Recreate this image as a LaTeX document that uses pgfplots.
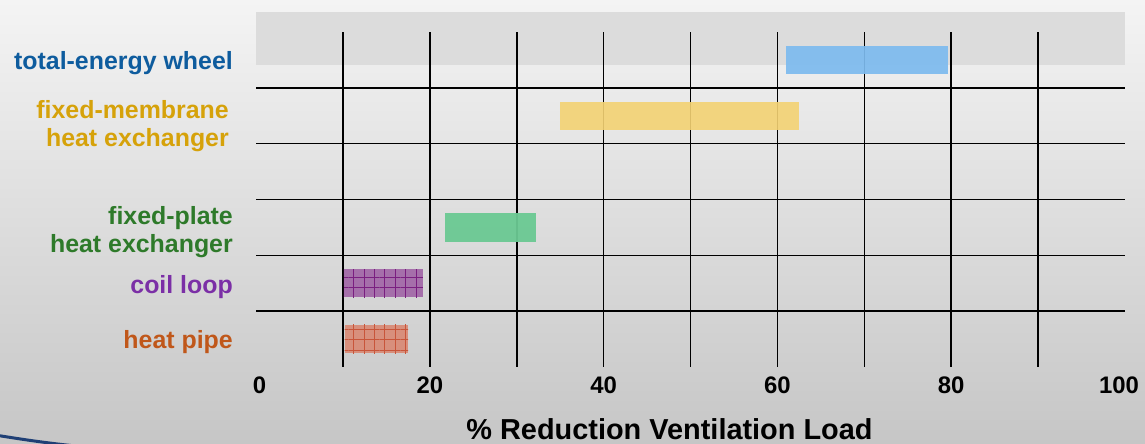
\documentclass[border=0pt]{standalone}
\usepackage{pgfplots}
\pgfplotsset{compat=1.18}
\usepackage{fontspec}
\setmainfont{Liberation Sans}
\usetikzlibrary{patterns.meta}
\definecolor{bgtop}{HTML}{F4F4F4}
\definecolor{bgbot}{HTML}{C6C6C6}
\definecolor{bandgray}{HTML}{DCDCDC}
\definecolor{navy}{HTML}{1F3F75}
\definecolor{lblue}{HTML}{0E5C9E}
\definecolor{lgold}{HTML}{D6A20A}
\definecolor{lgreen}{HTML}{2E7A2A}
\definecolor{lpurple}{HTML}{7B2FA6}
\definecolor{lorange}{HTML}{C0571A}
\definecolor{bblue}{HTML}{7DBBEF}
\definecolor{byellow}{HTML}{F4D273}
\definecolor{bgreen}{HTML}{6BC993}
\definecolor{bpurple}{HTML}{A36AA8}
\definecolor{bpurpleline}{HTML}{7A1F80}
\definecolor{borange}{HTML}{D98C78}
\definecolor{borangeline}{HTML}{C8553A}
\begin{document}
\begin{tikzpicture}
\useasboundingbox (0,0) rectangle (1145bp,444bp);
\clip (0,0) rectangle (1145bp,444bp);
\shade[top color=bgtop, bottom color=bgbot] (0,0) rectangle (1145bp,444bp);
\fill[bandgray] (256bp,379.3bp) rectangle (1125bp,432bp);
\draw[navy,line width=3bp] (-5bp,9bp) .. controls (20bp,5bp) and (45bp,1bp) .. (85bp,-3bp);
\begin{axis}[
  at={(256bp,77bp)}, anchor=south west,
  scale only axis, width=869bp, height=335bp,
  xmin=0, xmax=100, ymin=-0.5, ymax=5.5,
  axis line style={draw=none},
  major tick length=0pt,
  xtick={0,20,40,60,80,100},
  xticklabels={{\rule{7bp}{0pt}0},20,40,60,80,{100\rule{12bp}{0pt}}},
  x tick label style={font=\fontsize{24}{28}\selectfont\bfseries, inner sep=0pt, anchor=north},
  xticklabel shift=10bp,
  ytick={-0.06,0.94,1.92,3.81,4.95},
  yticklabels={
    {\textcolor{lorange}{heat pipe}},
    {\textcolor{lpurple}{coil loop}},
    {\textcolor{lgreen}{fixed-plate}\\\textcolor{lgreen}{heat exchanger}},
    {\textcolor{lgold}{fixed-membrane}\rule{4bp}{0pt}\\\textcolor{lgold}{heat exchanger}\rule{4bp}{0pt}},
    {\textcolor{lblue}{total-energy wheel}}},
  y tick label style={font=\fontsize{25}{28}\selectfont\bfseries, align=right, inner sep=0pt, anchor=east},
  yticklabel shift=23bp,
  extra x ticks={10,20,30,40,50,60,70,80,90},
  extra x tick labels={},
  extra x tick style={grid=major},
  extra y ticks={0.5,1.5,2.5,3.5,4.5},
  extra y tick labels={},
  extra y tick style={grid=major},
  major grid style={black, line width=1.6bp},
  xlabel={\% Reduction Ventilation Load},
  xlabel style={font=\fontsize{29}{32}\selectfont\bfseries, at={(axis description cs:0.5,0)}, anchor=north, yshift=-51bp, xshift=-21bp, inner sep=0pt},
  clip=false,
]
% total-energy wheel: 61 to 79.6
\addplot[draw=none, fill=bblue, fill opacity=0.92] coordinates {(61,4.745) (79.6,4.745) (79.6,5.255) (61,5.255)} -- cycle;
% fixed-membrane heat exchanger: 35 to 62.5
\addplot[draw=none, fill=byellow, fill opacity=0.9] coordinates {(35,3.745) (62.5,3.745) (62.5,4.255) (35,4.255)} -- cycle;
% fixed-plate heat exchanger: 21.8 to 32.2
\addplot[draw=none, fill=bgreen, fill opacity=0.95] coordinates {(21.8,1.745) (32.2,1.745) (32.2,2.255) (21.8,2.255)} -- cycle;
% coil loop: 10.1 to 19.2
\addplot[draw=none, fill=bpurple, fill opacity=0.95,
  postaction={pattern={Hatch[angle=0,distance=10.4bp,line width=1bp]}, pattern color=bpurpleline}]
  coordinates {(10.1,0.745) (19.2,0.745) (19.2,1.255) (10.1,1.255)} -- cycle;
% heat pipe: 10.2 to 17.5
\addplot[draw=none, fill=borange, fill opacity=0.95,
  postaction={pattern={Hatch[angle=0,distance=10.4bp,line width=1bp]}, pattern color=borangeline}]
  coordinates {(10.2,-0.255) (17.5,-0.255) (17.5,0.255) (10.2,0.255)} -- cycle;
\end{axis}
\end{tikzpicture}
\end{document}
